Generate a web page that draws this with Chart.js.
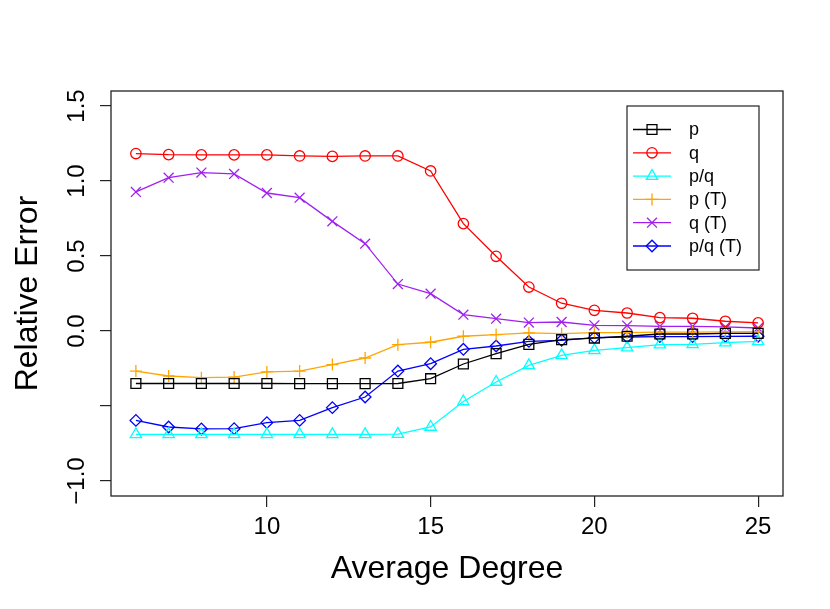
<!DOCTYPE html>
<html>
<head>
<meta charset="utf-8">
<script src="https://cdn.jsdelivr.net/npm/chart.js@4/dist/chart.umd.min.js"></script>
<style>
  html, body { margin: 0; padding: 0; background: #fff; }
  #wrap { width: 830px; height: 609px; }
</style>
</head>
<body>
<div id="wrap"><canvas id="errChart"></canvas></div>
<script>
// values
const degrees = [6, 7, 8, 9, 10, 11, 12, 13, 14, 15, 16, 17, 18, 19, 20, 21, 22, 23, 24, 25];
const errP   = [-0.350, -0.350, -0.350, -0.350, -0.350, -0.351, -0.351, -0.351, -0.350, -0.318, -0.220, -0.151, -0.089, -0.058, -0.047, -0.035, -0.020, -0.020, -0.016, -0.016];
const errQ   = [1.183, 1.176, 1.174, 1.174, 1.174, 1.167, 1.164, 1.167, 1.167, 1.067, 0.716, 0.498, 0.293, 0.185, 0.138, 0.120, 0.089, 0.085, 0.065, 0.054];
const errPQ  = [-0.689, -0.689, -0.689, -0.689, -0.689, -0.689, -0.689, -0.689, -0.687, -0.640, -0.470, -0.340, -0.229, -0.162, -0.129, -0.111, -0.091, -0.089, -0.078, -0.069];
const errPT  = [-0.267, -0.300, -0.311, -0.307, -0.273, -0.267, -0.224, -0.180, -0.091, -0.075, -0.035, -0.024, -0.013, -0.018, -0.011, -0.011, -0.008, -0.007, -0.006, -0.005];
const errQT  = [0.927, 1.022, 1.056, 1.047, 0.920, 0.889, 0.731, 0.582, 0.313, 0.249, 0.109, 0.082, 0.056, 0.060, 0.038, 0.036, 0.031, 0.031, 0.027, 0.020];
const errPQT = [-0.596, -0.640, -0.653, -0.651, -0.611, -0.596, -0.511, -0.440, -0.267, -0.218, -0.122, -0.100, -0.069, -0.062, -0.044, -0.040, -0.037, -0.037, -0.036, -0.035];

const seriesNames = ['p', 'q', 'p/q', 'p (T)', 'q (T)', 'p/q (T)'];
const xTicks = [10, 15, 20, 25];
const yTicks = [-1.0, -0.5, 0.0, 0.5, 1.0, 1.5];
const yTickLabels = ['\u22121.0', '', '0.0', '0.5', '1.0', '1.5']; // R drops -0.5 (overlap)

const FONT = '"Liberation Sans", Arial, Helvetica, sans-serif';

const styles = [
    { color: '#000000', shape: 'rect', r: 7 },
    { color: '#ff0000', shape: 'circle', r: 5.2 },
    { color: '#00ffff', shape: 'triangle', r: 6.5 },
    { color: '#ffa500', shape: 'cross', r: 6 },
    { color: '#a020f0', shape: 'crossRot', r: 7 },
    { color: '#0000ff', shape: 'rectRot', r: 5.8 }
];

const seriesVals = [errP, errQ, errPQ, errPT, errQT, errPQT];

const datasets = seriesVals.map((vals, i) => ({
    label: seriesNames[i],
    data: degrees.map((d, j) => ({ x: d, y: vals[j] })),
    borderColor: styles[i].color,
    backgroundColor: 'rgba(0,0,0,0)',
    borderWidth: 1.3,
    pointStyle: styles[i].shape,
    pointRadius: styles[i].r,
    pointBorderWidth: 1.3,
    pointBorderColor: styles[i].color,
    pointBackgroundColor: 'rgba(0,0,0,0)',
    tension: 0,
    fill: false
}));

// box, rotated y labels and the R-style legend
const rDecor = {
    id: 'rDecor',
    afterDraw(chart) {
        const ctx = chart.ctx;
        const a = chart.chartArea;
        const ys = chart.scales.y;
        ctx.save();
        ctx.strokeStyle = '#222';
        ctx.lineWidth = 1.3;
        ctx.strokeRect(a.left, a.top, a.right - a.left, a.bottom - a.top);

        ctx.fillStyle = '#000';
        ctx.font = '24px ' + FONT;
        ctx.textAlign = 'center';
        ctx.textBaseline = 'middle';
        yTicks.forEach((v, i) => {
            if (!yTickLabels[i]) return;
            const py = ys.getPixelForValue(v);
            ctx.save();
            ctx.translate(a.left - 34, py);
            ctx.rotate(-Math.PI / 2);
            ctx.fillText(yTickLabels[i], 0, 0);
            ctx.restore();
        });

        // legend
        const lx = a.right - 156, ly = a.top + 15, lw = 132, lh = 164;
        ctx.strokeStyle = '#222';
        ctx.lineWidth = 1.2;
        ctx.strokeRect(lx, ly, lw, lh);
        ctx.font = '18px ' + FONT;
        ctx.textAlign = 'left';
        chart.data.datasets.forEach((ds, i) => {
            const cy = ly + 23.5 + i * 23.3;
            ctx.strokeStyle = ds.borderColor;
            ctx.lineWidth = 1.3;
            ctx.beginPath();
            ctx.moveTo(lx + 6, cy);
            ctx.lineTo(lx + 44, cy);
            ctx.stroke();
            ctx.fillStyle = 'rgba(0,0,0,0)';
            Chart.helpers.drawPoint(ctx, {
                pointStyle: ds.pointStyle,
                radius: ds.pointRadius,
                borderWidth: 1.3
            }, lx + 25, cy);
            ctx.fillStyle = '#000';
            ctx.fillText(ds.label, lx + 62, cy + 1);
        });
        ctx.restore();
    }
};

new Chart(document.getElementById('errChart'), {
    type: 'line',
    data: { datasets: datasets },
    options: {
        responsive: true,
        maintainAspectRatio: false,
        animation: false,
        layout: { padding: { top: 91, right: 47, left: 0, bottom: 0 } },
        plugins: {
            legend: { display: false },
            tooltip: { enabled: false }
        },
        scales: {
            x: {
                type: 'linear',
                min: 5.24,
                max: 25.76,
                afterBuildTicks: s => { s.ticks = xTicks.map(v => ({ value: v })); },
                afterFit: s => { s.height = 113; },
                grid: { drawOnChartArea: false, drawTicks: true, tickLength: 11, color: '#222', lineWidth: 1.2 },
                border: { display: false },
                ticks: {
                    color: '#000',
                    font: { family: FONT, size: 24 },
                    padding: 6,
                    maxRotation: 0,
                    autoSkip: false
                },
                title: {
                    display: true,
                    text: 'Average Degree',
                    color: '#000',
                    font: { family: FONT, size: 32 },
                    padding: { top: 0, bottom: 21 }
                }
            },
            y: {
                type: 'linear',
                min: -1.1,
                max: 1.6,
                afterBuildTicks: s => { s.ticks = yTicks.map(v => ({ value: v })); },
                afterFit: s => { s.width = 111; },
                grid: { drawOnChartArea: false, drawTicks: true, tickLength: 11, color: '#222', lineWidth: 1.2 },
                border: { display: false },
                ticks: { display: false },
                title: {
                    display: true,
                    text: 'Relative Error',
                    color: '#000',
                    font: { family: FONT, size: 32 },
                    padding: { top: 9, bottom: 0 }
                }
            }
        }
    },
    plugins: [rDecor]
});
</script>
</body>
</html>
